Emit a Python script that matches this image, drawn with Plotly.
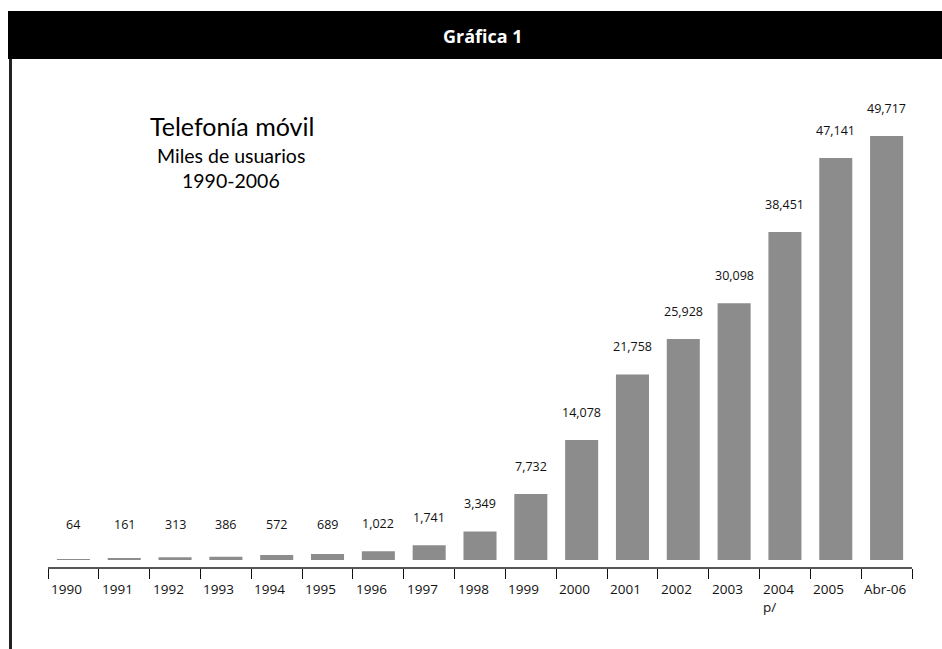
import plotly.graph_objects as go

categories = ["1990", "1991", "1992", "1993", "1994", "1995", "1996", "1997", "1998",
              "1999", "2000", "2001", "2002", "2003", "2004", "2005", "Abr-06"]
tick_labels = ["1990", "1991", "1992", "1993", "1994", "1995", "1996", "1997", "1998",
               "1999", "2000", "2001", "2002", "2003", "2004<br>p/", "2005", "Abr-06"]
values = [64, 161, 313, 386, 572, 689, 1022, 1741, 3349,
          7732, 14078, 21758, 25928, 30098, 38451, 47141, 49717]
value_labels = ["64", "161", "313", "386", "572", "689", "1,022", "1,741", "3,349",
                "7,732", "14,078", "21,758", "25,928", "30,098", "38,451", "47,141", "49,717"]

W, H = 942, 649
ML, MR, MT, MB = 48, 30, 100, 82
PW, PH = W - ML - MR, H - MT - MB

def px_x(p):
    return (p - ML) / PW

def px_y(p):
    return (H - MB - p) / PH

FONT = "Open Sans"

fig = go.Figure()
fig.add_trace(go.Bar(
    x=categories, y=values, width=0.65,
    marker=dict(color="#8c8c8c", line=dict(width=0)),
    hoverinfo="skip",
))

annotations = []
for i, (v, lab) in enumerate(zip(values, value_labels)):
    annotations.append(dict(
        x=i, y=max(v, 900), xref="x", yref="y",
        text=lab, showarrow=False, xanchor="center", yanchor="bottom", yshift=17,
        font=dict(family=FONT, size=12.5, color="#111"),
    ))
for i, lab in enumerate(tick_labels):
    annotations.append(dict(
        x=i - 0.5, y=px_y(578), xref="x", yref="paper",
        text=lab, showarrow=False, xanchor="left", yanchor="top", xshift=1,
        align="left",
        font=dict(family=FONT, size=13.5, color="#111"),
    ))

annotations += [
    dict(x=px_x(232), y=px_y(126), xref="paper", yref="paper", text="Telefonía móvil",
         showarrow=False, xanchor="center", yanchor="middle",
         font=dict(family="Lato", size=25, color="#000")),
    dict(x=px_x(231), y=px_y(155), xref="paper", yref="paper", text="Miles de usuarios",
         showarrow=False, xanchor="center", yanchor="middle",
         font=dict(family="Lato", size=19.5, color="#000")),
    dict(x=px_x(231), y=px_y(180), xref="paper", yref="paper", text="1990-2006",
         showarrow=False, xanchor="center", yanchor="middle",
         font=dict(family="Lato", size=19.5, color="#000")),
    dict(x=px_x(483), y=px_y(36), xref="paper", yref="paper", text="<b>Gráfica 1</b>",
         showarrow=False, xanchor="center", yanchor="middle",
         font=dict(family=FONT, size=18, color="#fff")),
]

shapes = [
    dict(type="rect", xref="paper", yref="paper",
         x0=px_x(8), x1=px_x(945), y0=px_y(59), y1=px_y(11),
         fillcolor="#000", line=dict(width=0), layer="below"),
    dict(type="line", xref="paper", yref="paper",
         x0=px_x(10.5), x1=px_x(10.5), y0=px_y(59), y1=px_y(652),
         line=dict(color="#222", width=3)),
]

k = 424 / 49717  # px per unit
ymin = -7 / k
ymax = ymin + PH / k

fig.update_layout(
    width=W, height=H,
    margin=dict(l=ML, r=MR, t=MT, b=MB),
    paper_bgcolor="white", plot_bgcolor="white",
    showlegend=False,
    bargap=0.35,
    annotations=annotations, shapes=shapes,
    xaxis=dict(
        type="category", range=[-0.5, len(categories) - 0.5],
        showline=True, linecolor="#555", linewidth=2,
        ticks="outside", tickson="boundaries", ticklen=10, tickcolor="#111", tickwidth=1,
        showticklabels=False, showgrid=False, zeroline=False, fixedrange=True,
    ),
    yaxis=dict(range=[ymin, ymax], visible=False, showgrid=False, zeroline=False,
               fixedrange=True),
)

fig.write_html("out.html", config={"displayModeBar": False},
               post_script="document.body.style.margin='0';")
